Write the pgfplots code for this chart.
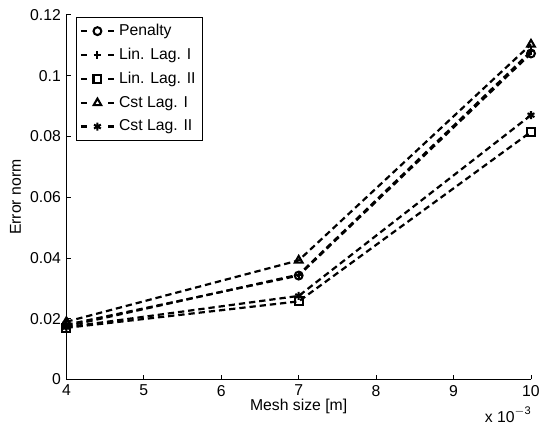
\documentclass[border=0pt]{standalone}
\usepackage{fontspec}
\setmainfont{Liberation Sans}
\usepackage{pgfplots}
\pgfplotsset{compat=1.18}
\begin{document}
\begin{tikzpicture}
\begin{axis}[
  scale only axis,
  width=295pt, height=231.5pt,
  xmin=4, xmax=10, ymin=0, ymax=0.12,
  xtick={4,5,6,7,8,9,10},
  ytick={0,0.02,0.04,0.06,0.08,0.1,0.12},
  yticklabels={0,0.02,0.04,0.06,0.08,0.1,0.12},
  axis x line*=bottom, axis y line*=left,
  tick align=inside,
  major tick length=3pt,
  tick style={black, line width=0.5pt},
  axis line style={line width=0.6pt},
  /pgf/number format/assume math mode=true,
  ticklabel style={font=\fontsize{10pt}{12pt}\selectfont},
  label style={font=\fontsize{10pt}{12pt}\selectfont},
  xlabel={Mesh size [m]},
  ylabel={Error norm},
  xlabel style={yshift=5pt},
  ylabel style={yshift=-1pt},
  legend style={at={(rel axis cs:0.021,0.995)}, anchor=north west,
    draw=black, line width=0.6pt, font=\fontsize{10pt}{12pt}\selectfont,
    row sep=2.5pt, inner xsep=2pt, inner ysep=2.5pt,
    nodes={inner xsep=2.5pt}},
  legend cell align=left,
  legend image code/.code={
    \draw[#1, solid] (0.02cm,0cm) -- (0.15cm,0cm);
    \draw[#1, solid] (0.63cm,0cm) -- (0.76cm,0cm);
    \draw[#1, solid] plot coordinates {(0.39cm,0cm)};
  },
  clip=false,
]
\addplot[black, line width=1.4pt, dash pattern=on 4pt off 2.5pt, mark size=2.5pt, mark options={solid, black, line width=1.3pt}, mark=o] coordinates {(4,0.0180) (7,0.0342) (10,0.1073)};
\addlegendentry{Penalty}
\addplot[black, line width=1.4pt, dash pattern=on 4pt off 2.5pt, mark size=2.5pt, mark options={solid, black, line width=1.3pt}, mark=+] coordinates {(4,0.0175) (7,0.0345) (10,0.1080)};
\addlegendentry{Lin. Lag. I}
\addplot[black, line width=1.4pt, dash pattern=on 4pt off 2.5pt, mark size=2.5pt, mark options={solid, black, line width=1.3pt}, mark=square] coordinates {(4,0.0170) (7,0.0257) (10,0.0815)};
\addlegendentry{Lin. Lag. II}
\addplot[black, line width=1.4pt, dash pattern=on 4pt off 2.5pt, mark size=2.8pt, mark options={solid, black, line width=1.3pt}, mark=triangle] coordinates {(4,0.0190) (7,0.0392) (10,0.1103)};
\addlegendentry{Cst Lag. I}
\addplot[black, line width=1.4pt, dash pattern=on 4pt off 2.5pt, mark size=2.5pt, mark options={solid, black, line width=1.3pt}, mark=asterisk] coordinates {(4,0.0172) (7,0.0275) (10,0.0870)};
\addlegendentry{Cst Lag. II}
\node[anchor=base east, inner sep=0pt, font=\fontsize{10pt}{12pt}\selectfont] at (rel axis cs:1.0,-0.117) {x 10\raisebox{0.9ex}{\fontsize{7pt}{8pt}\selectfont $-$3}};
\path[use as bounding box] (rel axis cs:-0.1429,-0.125) rectangle (rel axis cs:1.0192,1.0408);
\end{axis}
\end{tikzpicture}
\end{document}
